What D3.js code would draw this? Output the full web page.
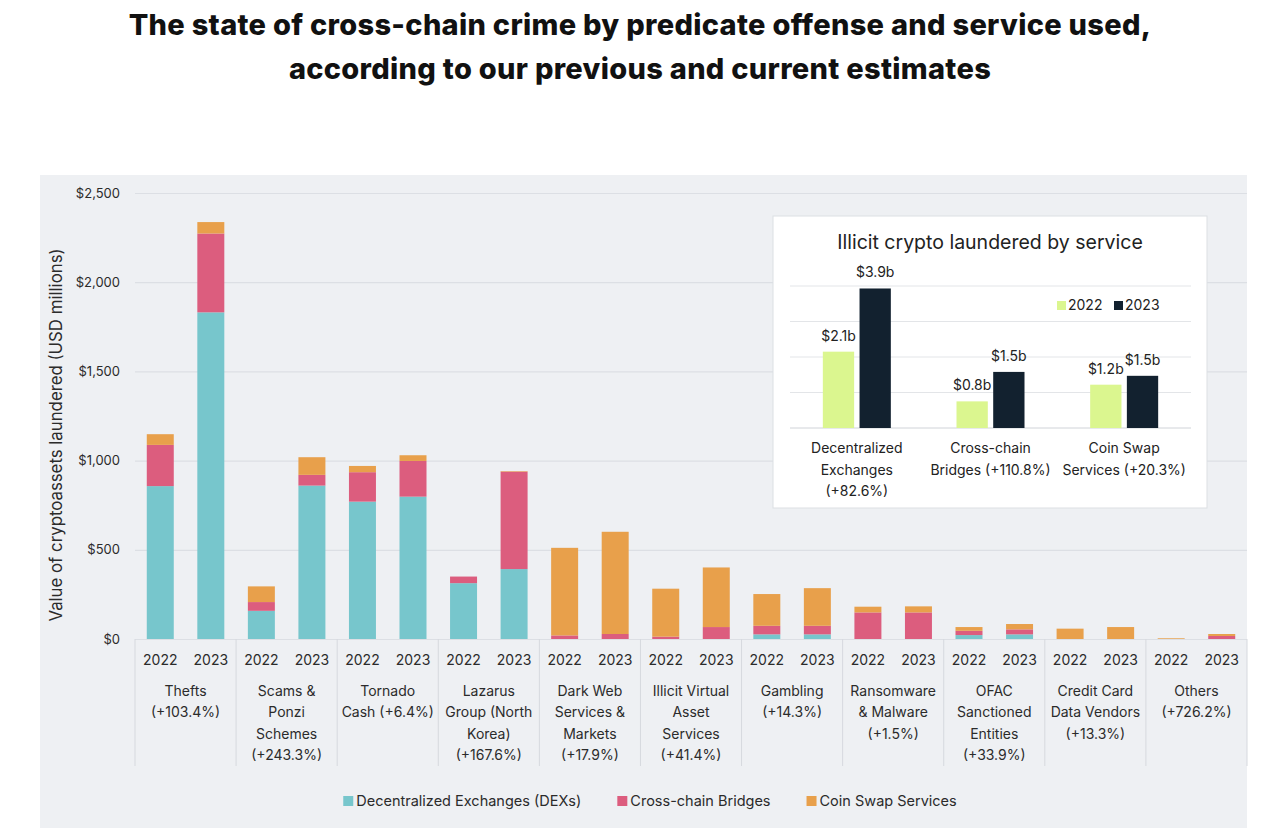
<!DOCTYPE html>
<html><head><meta charset="utf-8">
<script src="https://cdn.jsdelivr.net/npm/d3@7"></script>
<style>
html,body{margin:0;padding:0;background:#fff;}
svg{display:block;font-family:Inter, "Noto Sans", sans-serif;}
</style></head>
<body>
<svg id="chart" width="1280" height="834"></svg>
<script>
// ---------- data ----------
const titleLines = ["The state of cross-chain crime by predicate offense and service used,",
                    "according to our previous and current estimates"];
const yAxisTitle = "Value of cryptoassets laundered (USD millions)";
const categories = ["Thefts","Scams","Tornado","Lazarus","DarkWeb","IllicitVAS","Gambling","Ransomware","OFAC","CreditCard","Others"];
const categoryLabels = [
  ["Thefts","(+103.4%)"],
  ["Scams &","Ponzi","Schemes","(+243.3%)"],
  ["Tornado","Cash (+6.4%)"],
  ["Lazarus","Group (North","Korea)","(+167.6%)"],
  ["Dark Web","Services &","Markets","(+17.9%)"],
  ["Illicit Virtual","Asset","Services","(+41.4%)"],
  ["Gambling","(+14.3%)"],
  ["Ransomware","& Malware","(+1.5%)"],
  ["OFAC","Sanctioned","Entities","(+33.9%)"],
  ["Credit Card","Data Vendors","(+13.3%)"],
  ["Others","(+726.2%)"]
];
const years = ["2022","2023"];
const seriesNames = ["Decentralized Exchanges (DEXs)","Cross-chain Bridges","Coin Swap Services"];
const dex2022     = [857, 158, 770, 313,   0,   0,  26,   0, 22,  0, 0];
const bridges2022 = [231,  49, 165,  37,  20,  13,  48, 149, 24,  0, 0];
const swap2022    = [ 60,  88,  35,   0, 491, 269, 178,  32, 21, 58, 4];
const dex2023     = [1831, 860, 798, 392,  0,   0,  26,   0, 26,  0, 0];
const bridges2023 = [442,  60, 200, 546,  28,  67,  48, 149, 28,  0, 17];
const swap2023    = [ 64,  99,  32,   3, 573, 334, 211,  34, 30, 67, 11];
const yTicks = [0, 500, 1000, 1500, 2000, 2500];

// inset
const insetTitle = "Illicit crypto laundered by service";
const insetCategories = ["Decentralized Exchanges","Cross-chain Bridges","Coin Swap Services"];
const insetLabels = [["Decentralized","Exchanges","(+82.6%)"],["Cross-chain","Bridges (+110.8%)"],["Coin Swap","Services (+20.3%)"]];
const inset2022 = [2.15, 0.75, 1.22];
const inset2023 = [3.93, 1.58, 1.47];
const inset2022Labels = ["$2.1b","$0.8b","$1.2b"];
const inset2023Labels = ["$3.9b","$1.5b","$1.5b"];
const insetTicks = [0,1,2,3,4];

// ---------- styles ----------
const seriesColors = ["#77c6cc","#dc5d7e","#e8a04b"];
const yearColors = ["#dbf68f","#12212f"];
const textColor = "#2b2b2b";

const svg = d3.select("#chart");

// title
svg.append("g").selectAll("text").data(titleLines).join("text")
  .attr("x", 640).attr("y", (d,i)=>35 + i*44)
  .attr("text-anchor","middle").attr("font-size",29).attr("font-weight",800)
  .attr("letter-spacing",0.3)
  .attr("fill","#111").text(d=>d);

// panel
svg.append("rect").attr("x",40).attr("y",175).attr("width",1207).attr("height",653).attr("fill","#eef0f3");

const pLeft = 135, pRight = 1247, pTop = 193, pBase = 639;
const x0 = d3.scaleBand().domain(categories).range([pLeft,pRight]).padding(0);
const x1 = d3.scaleBand().domain(years).range([0,x0.bandwidth()]).paddingInner(0.466).paddingOuter(0.233);
const y = d3.scaleLinear().domain([0,2500]).range([pBase,pTop]);

// grid
const gAxis = svg.append("g").attr("transform",`translate(${pLeft},0)`)
  .call(d3.axisLeft(y).tickValues(yTicks).tickSize(-(pRight-pLeft)).tickFormat(d3.format("$,.0f")).tickPadding(15));
gAxis.select(".domain").remove();
gAxis.selectAll(".tick line").attr("stroke","#dcdfe4").attr("stroke-width",1.2);
gAxis.selectAll(".tick text").attr("font-size",13).attr("fill",textColor).attr("font-family","Inter, sans-serif");

// y axis title
svg.append("text").attr("transform","translate(62,435) rotate(-90)")
  .attr("text-anchor","middle").attr("font-size",16.8).attr("fill",textColor).text(yAxisTitle);

// stacked data
const byYear = {
  "2022": [dex2022, bridges2022, swap2022],
  "2023": [dex2023, bridges2023, swap2023]
};
const rows = [];
categories.forEach((c,i)=>{
  years.forEach(yr=>{
    rows.push({cat:c, year:yr, dex:byYear[yr][0][i], bridges:byYear[yr][1][i], swap:byYear[yr][2][i]});
  });
});
const stack = d3.stack().keys(["dex","bridges","swap"]);
const stacked = stack(rows);
svg.append("g").selectAll("g").data(stacked).join("g")
  .attr("fill",(d,i)=>seriesColors[i])
  .selectAll("rect").data(d=>d).join("rect")
  .attr("x",d=>x0(d.data.cat)+x1(d.data.year))
  .attr("width",x1.bandwidth())
  .attr("y",d=>y(d[1]))
  .attr("height",d=>Math.max(0,y(d[0])-y(d[1])));

// category separators
const bounds = categories.map(c=>x0(c)).concat([pRight]);
svg.append("g").selectAll("line").data(bounds).join("line")
  .attr("x1",d=>d).attr("x2",d=>d).attr("y1",pBase).attr("y2",766)
  .attr("stroke","#d6d9de").attr("stroke-width",1);

// year labels
const yl = svg.append("g");
categories.forEach(c=>{
  years.forEach(yr=>{
    yl.append("text").attr("x",x0(c)+x1(yr)+x1.bandwidth()/2).attr("y",665)
      .attr("text-anchor","middle").attr("font-size",14).attr("fill",textColor).text(yr);
  });
});
// category labels
const cl = svg.append("g");
categories.forEach((c,i)=>{
  cl.append("g").selectAll("text").data(categoryLabels[i]).join("text")
    .attr("x",x0(c)+x0.bandwidth()/2).attr("y",(d,j)=>696+j*21.3)
    .attr("text-anchor","middle").attr("font-size",14).attr("fill",textColor).text(d=>d);
});

// legend
const leg = svg.append("g");
let lx = 0;
seriesNames.forEach((n,i)=>{
  const g = leg.append("g");
  g.append("rect").attr("x",0).attr("y",-10).attr("width",10).attr("height",10).attr("fill",seriesColors[i]);
  const t = g.append("text").attr("x",13).attr("y",0).attr("font-size",14.5).attr("fill",textColor).text(n);
  const w = 13 + t.node().getComputedTextLength();
  g.attr("transform",`translate(${lx},0)`);
  lx += w + 36;
});
const legW = lx - 36;
leg.attr("transform",`translate(${650 - legW/2},806)`);

// ---------- inset ----------
svg.append("rect").attr("x",773).attr("y",216).attr("width",434).attr("height",292)
  .attr("fill","#fff").attr("stroke","#dcdfe3");
svg.append("text").attr("x",990).attr("y",249).attr("text-anchor","middle")
  .attr("font-size",19.5).attr("fill","#222").text(insetTitle);

const iLeft = 790, iRight = 1191, iBase = 428, iTop = 286;
const ix0 = d3.scaleBand().domain(insetCategories).range([iLeft,iRight]);
const ix1 = d3.scaleBand().domain(years).range([ix0.bandwidth()/2-34, ix0.bandwidth()/2+34]).paddingInner(0.147);
const iy = d3.scaleLinear().domain([0,4]).range([iBase,iTop]);

svg.append("g").selectAll("line").data(insetTicks).join("line")
  .attr("x1",iLeft).attr("x2",iRight).attr("y1",d=>iy(d)).attr("y2",d=>iy(d))
  .attr("stroke",(d)=>d===0?"#d0d3d8":"#e3e5e8").attr("stroke-width",1);

const insetRows = [];
insetCategories.forEach((c,i)=>{
  insetRows.push({cat:c, year:"2022", v:inset2022[i], label:inset2022Labels[i]});
  insetRows.push({cat:c, year:"2023", v:inset2023[i], label:inset2023Labels[i]});
});
svg.append("g").selectAll("rect").data(insetRows).join("rect")
  .attr("x",d=>ix0(d.cat)+ix1(d.year)).attr("width",ix1.bandwidth())
  .attr("y",d=>iy(d.v)).attr("height",d=>iBase-iy(d.v))
  .attr("fill",d=>yearColors[years.indexOf(d.year)]);
svg.append("g").selectAll("text").data(insetRows).join("text")
  .attr("x",d=>ix0(d.cat)+ix1(d.year)+ix1.bandwidth()/2).attr("y",d=>iy(d.v)-11)
  .attr("text-anchor","middle").attr("font-size",14).attr("fill","#222").text(d=>d.label);

insetCategories.forEach((c,i)=>{
  svg.append("g").selectAll("text").data(insetLabels[i]).join("text")
    .attr("x",ix0(c)+ix0.bandwidth()/2).attr("y",(d,j)=>453+j*21.5)
    .attr("text-anchor","middle").attr("font-size",14).attr("fill","#222").text(d=>d);
});

// inset legend
const il = svg.append("g").attr("transform","translate(1057,310)");
years.forEach((yr,i)=>{
  const g = il.append("g").attr("transform",`translate(${i*57},0)`);
  g.append("rect").attr("x",0).attr("y",-9).attr("width",9).attr("height",9).attr("fill",yearColors[i]);
  g.append("text").attr("x",11).attr("y",0).attr("font-size",14).attr("fill","#222").text(yr);
});
</script>
</body></html>
